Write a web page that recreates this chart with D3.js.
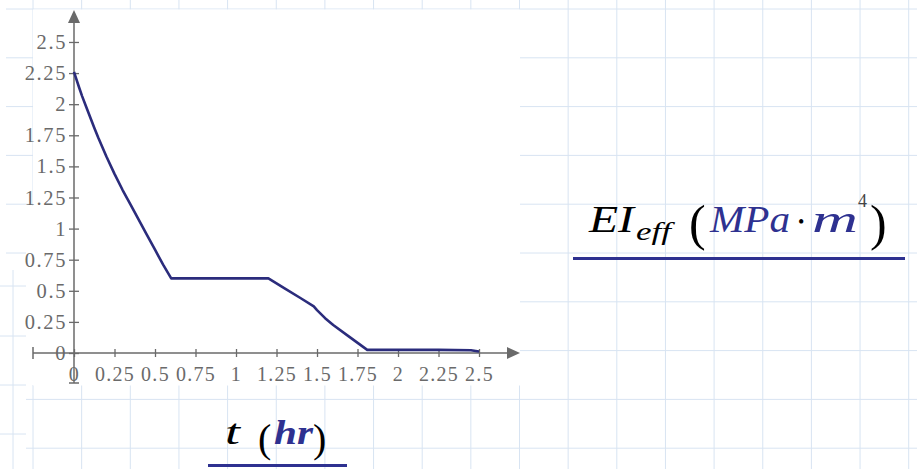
<!DOCTYPE html>
<html>
<head>
<meta charset="utf-8">
<script src="https://cdn.jsdelivr.net/npm/d3@7"></script>
<style>
  body { margin: 0; background: #fff; }
  svg { display: block; }
</style>
</head>
<body>
<svg id="chart"></svg>
<script>
// time (hr) and effective stiffness EI_eff (MPa*m^4)
var tHours = [0, 0.01, 0.03, 0.05, 0.075, 0.1, 0.125, 0.15, 0.2, 0.25, 0.3, 0.35, 0.4, 0.45, 0.5, 0.55, 0.6,
              0.8, 1.0, 1.2, 1.3, 1.4, 1.48, 1.5, 1.55, 1.6, 1.7, 1.81, 2.0, 2.25, 2.45, 2.5]
var eiEff  = [2.26, 2.22, 2.14, 2.065, 1.98, 1.895, 1.81, 1.73, 1.58, 1.44, 1.31, 1.19, 1.07, 0.95, 0.83, 0.71, 0.60,
              0.60, 0.60, 0.60, 0.52, 0.44, 0.375, 0.345, 0.28, 0.225, 0.13, 0.025, 0.025, 0.025, 0.022, 0.012]

var xTicks = [0, 0.25, 0.5, 0.75, 1, 1.25, 1.5, 1.75, 2, 2.25, 2.5]
var yTicks = [0, 0.25, 0.5, 0.75, 1, 1.25, 1.5, 1.75, 2, 2.25, 2.5]
var xMax = 2.753
var yMax = 2.757

var screen = {width:917,height:469}
var gridColor = "#d8e4f2"
var axisColor = "#6a6a6a"
var lineColor = "#2b2c7c"
var navy = "#2e3190"
var serif = "'Liberation Serif', 'Times New Roman', serif"

var svg = d3.select("#chart")
    .attr("width",screen.width)
    .attr("height",screen.height)

// worksheet grid in the background
var grid = svg.append("g").attr("id","grid")
for (var gx = 33; gx < screen.width; gx += 48.65)
    {
        grid.append("line").attr("x1",gx).attr("x2",gx).attr("y1",0).attr("y2",screen.height)
            .attr("stroke",gridColor)
    }
for (var gy = 9; gy < screen.height; gy += 48.8)
    {
        grid.append("line").attr("x1",6).attr("x2",screen.width).attr("y1",gy).attr("y2",gy)
            .attr("stroke",gridColor)
    }

// blank plot region, plus the odd shifted patch on the far left
svg.append("rect").attr("x",33).attr("y",9.5).attr("width",487).attr("height",376).attr("fill","#fff")
svg.append("rect").attr("x",26).attr("y",206).attr("width",8).attr("height",179).attr("fill","#fff")
svg.append("rect").attr("x",0).attr("y",262).attr("width",26).attr("height",207).attr("fill","#fff")
var patch = svg.append("g")
patch.append("line").attr("x1",13).attr("x2",13).attr("y1",270).attr("y2",469).attr("stroke",gridColor)
;[286, 336, 385, 434].forEach(function(py)
    {
        patch.append("line").attr("x1",0).attr("x2",26).attr("y1",py).attr("y2",py).attr("stroke",gridColor)
    })

var xScale = d3.scaleLinear()
                .domain([0,xMax])
                .range([74,520])

var yScale = d3.scaleLinear()
                .domain([0,yMax])
                .range([353,10])

// axes lines with arrows and end caps
var axes = svg.append("g").attr("id","axes")
axes.append("line")
    .attr("x1",xScale(0)).attr("x2",xScale(0))
    .attr("y1",383).attr("y2",yScale(yMax)+12)
    .attr("stroke",axisColor).attr("stroke-width",1.5)
axes.append("line")
    .attr("x1",xScale(0)-5).attr("x2",xScale(0)+5)
    .attr("y1",383).attr("y2",383)
    .attr("stroke",axisColor).attr("stroke-width",1.5)
axes.append("path")
    .attr("d","M"+xScale(0)+","+yScale(yMax)+" l-6,13 l12,0 z")
    .attr("fill",axisColor)
axes.append("line")
    .attr("x1",33).attr("x2",xScale(xMax)-12)
    .attr("y1",yScale(0)).attr("y2",yScale(0))
    .attr("stroke",axisColor).attr("stroke-width",1.5)
axes.append("line")
    .attr("x1",33).attr("x2",33)
    .attr("y1",yScale(0)-6).attr("y2",yScale(0)+6)
    .attr("stroke",axisColor).attr("stroke-width",1.5)
axes.append("path")
    .attr("d","M"+xScale(xMax)+","+yScale(0)+" l-13,-6 l0,12 z")
    .attr("fill",axisColor)

var fmt = function(d){ return String(d) }

var xAxis = d3.axisBottom(xScale).tickValues(xTicks).tickFormat(fmt).tickSize(4).tickPadding(10)
var yAxis = d3.axisLeft(yScale).tickValues(yTicks).tickFormat(fmt).tickSize(5).tickPadding(2)

var gxAxis = axes.append("g")
    .attr("transform","translate(0,"+yScale(0)+")")
    .call(xAxis)
var gyAxis = axes.append("g")
    .attr("transform","translate("+xScale(0)+",0)")
    .call(yAxis)

gxAxis.select(".domain").remove()
gyAxis.select(".domain").remove()
gxAxis.selectAll(".tick line").attr("y1",-4).attr("stroke",axisColor).attr("stroke-width",1.3)
gyAxis.selectAll(".tick line").attr("x1",5).attr("stroke",axisColor).attr("stroke-width",1.3)
gxAxis.selectAll(".tick text")
    .attr("fill",axisColor)
    .style("font-family",serif)
    .style("font-size","20px")
    .style("letter-spacing","1.3px")
gyAxis.selectAll(".tick text")
    .attr("fill",axisColor)
    .style("font-family",serif)
    .style("font-size","20.5px")
    .style("letter-spacing","1.6px")

// the curve
var lineGenerator = d3.line()
    .x(function(d,i){return xScale(tHours[i])})
    .y(function(d){return yScale(d)})

svg.append("path")
    .datum(eiEff)
    .attr("d",lineGenerator)
    .attr("fill","none")
    .attr("stroke",lineColor)
    .attr("stroke-width",2.6)
    .attr("stroke-linejoin","round")

// axis titles, Mathcad style
var addText = function(txt,x,y,size,color,style,weight,len)
    {
        var t = svg.append("text")
            .attr("x",x).attr("y",y)
            .attr("fill",color)
            .style("font-family",serif)
            .style("font-size",size+"px")
            .style("font-style",style || "normal")
            .style("font-weight",weight || "normal")
            .text(txt)
        if (len) t.attr("textLength",len).attr("lengthAdjust","spacingAndGlyphs")
        return t
    }

addText("EI",589,232,37,"#000","italic","normal",45)
addText("eff",636,240,25,"#000","italic","normal",35)
addText("(",689,240,50,"#000","normal","normal")
addText("MPa",710,232,37,navy,"italic","normal",80)
addText("•",798,228,18,"#000")
addText("m",812,232,37,navy,"italic","normal",46)
addText("4",858,207,18,"#444")
addText(")",870,240,50,"#000","normal","normal")
svg.append("line").attr("x1",573).attr("x2",905).attr("y1",258.5).attr("y2",258.5)
    .attr("stroke",navy).attr("stroke-width",3)

addText("t",225,444,35,"#000","italic","normal",15)
addText("(",258,452,40,"#000","normal","normal")
addText("hr",274,444,33,navy,"italic","bold",39)
addText(")",313,452,40,"#000","normal","normal")
svg.append("line").attr("x1",208).attr("x2",347).attr("y1",465.5).attr("y2",465.5)
    .attr("stroke",navy).attr("stroke-width",3)
</script>
</body>
</html>
